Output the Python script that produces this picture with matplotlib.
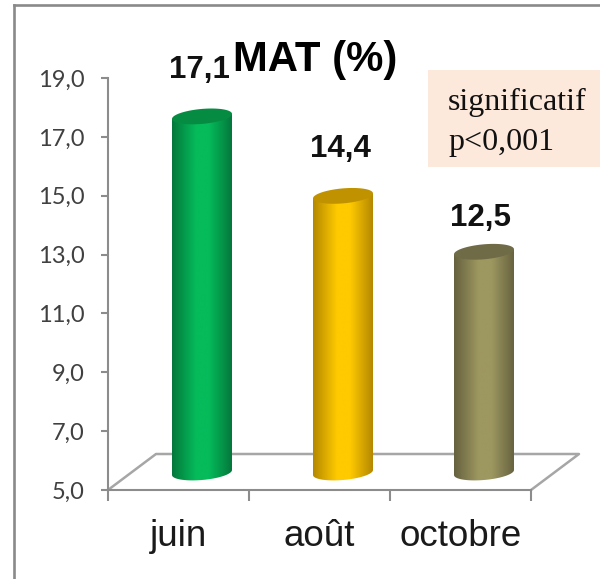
import numpy as np
import matplotlib
matplotlib.use('Agg')
import matplotlib.pyplot as plt
from matplotlib.colors import LinearSegmentedColormap
from matplotlib.lines import Line2D
from matplotlib.patches import PathPatch, Rectangle
from matplotlib.path import Path

plt.rcParams['font.family'] = ['Liberation Sans', 'DejaVu Sans']

months = ['juin', 'août', 'octobre']
mat = [17.1, 14.4, 12.5]
value_labels = ['17,1', '14,4', '12,5']
y_ticks = [5, 7, 9, 11, 13, 15, 17, 19]
y_tick_labels = ['5,0', '7,0', '9,0', '11,0', '13,0', '15,0', '17,0', '19,0']
edge_colors = ['#04783c', '#b58800', '#66613f']
mid_colors = ['#05bb5a', '#ffca00', '#9d9760']
top_colors = ['#068c42', '#c09200', '#6f6b47']
label_offsets = [46, 47, 34]  # px above the top of the bar

W, H = 600, 579
L, R, T, B = 108, 531, 78, 490
px_x = 3 / (R - L)  # one pixel in x data units
px_y = 14 / (B - T)  # one pixel in y data units

fig = plt.figure(figsize=(W / 100, H / 100), dpi=100)
fig.patch.set_facecolor('white')

# outer frame of the slide
fig.add_artist(Line2D([13.5 / W, 13.5 / W], [0, 1 - 5 / H], color='#8a8a8a', lw=1.9))
fig.add_artist(Line2D([13.5 / W, 1], [1 - 5 / H, 1 - 5 / H], color='#8a8a8a', lw=1.9))

ax = fig.add_axes([L / W, 1 - B / H, (R - L) / W, (B - T) / H])
ax.set_xlim(0, 3)
ax.set_ylim(5, 19)
ax.set_autoscale_on(False)
ax.patch.set_alpha(0)

for s in ['top', 'right']:
    ax.spines[s].set_visible(False)
for s in ['left', 'bottom']:
    ax.spines[s].set_color('#8c8c8c')
    ax.spines[s].set_linewidth(1.5)

ax.set_yticks(y_ticks)
ax.set_yticklabels(y_tick_labels, family='Lato', fontsize=17, color='#404040')
ax.tick_params(axis='y', length=5, width=1.5, color='#8c8c8c', pad=12)

ax.set_xticks([0, 1, 2, 3])
ax.set_xticklabels([])
ax.tick_params(axis='x', which='major', length=8, width=1.5, color='#8c8c8c')
centers = np.arange(len(months)) + 0.5
ax.set_xticks(centers, minor=True)
ax.set_xticklabels(months, minor=True, fontsize=26.5, color='#1a1a1a')
ax.tick_params(axis='x', which='minor', length=0, pad=40)
for lab in ax.get_xticklabels(minor=True):
    lab.set_verticalalignment('baseline')

# floor of the 3d chart
dx, dy = 48 * px_x, 36 * px_y
floor_color = '#a6a6a6'
ax.plot([0, dx, 3 + dx, 3], [5, 5 + dy, 5 + dy, 5], color=floor_color, lw=1.8,
        clip_on=False, zorder=1)

# cylinders: horizontal gradient clipped to the outline
shift = 23.5 * px_x
half_w = 30 * px_x
ell_h = 7.5 * px_y
tilt = 2.5 * px_y
base_y = 5 + 17.5 * px_y
top_shift = 17.5 * px_y
for i, v in enumerate(mat):
    xc = centers[i] + shift
    yt = v + top_shift
    t_low = np.linspace(np.pi, 2 * np.pi, 40)
    t_rim = np.linspace(0, 2 * np.pi, 80)
    low_x = xc + half_w * np.cos(t_low)
    low_y = base_y + tilt * np.cos(t_low) + ell_h * np.sin(t_low)
    body = list(zip(low_x, low_y)) + [(xc + half_w, yt + tilt), (xc - half_w, yt - tilt)]
    body_path = Path(body + [body[0]], closed=True)
    cmap = LinearSegmentedColormap.from_list(
        'c', [(0, edge_colors[i]), (0.4, mid_colors[i]), (0.62, mid_colors[i]), (1, edge_colors[i])])
    grad = np.linspace(0, 1, 128).reshape(1, -1)
    im = ax.imshow(grad, cmap=cmap, aspect='auto', zorder=3, interpolation='bilinear',
                   extent=[xc - half_w, xc + half_w, base_y - 2 * ell_h, yt + 2 * ell_h])
    clip = PathPatch(body_path, transform=ax.transData, fc='none', ec='none')
    ax.add_patch(clip)
    im.set_clip_path(clip)
    rim_x = xc + half_w * np.cos(t_rim)
    rim_y = yt + tilt * np.cos(t_rim) + ell_h * np.sin(t_rim)
    ax.fill(rim_x, rim_y, color=top_colors[i], lw=0, zorder=4)
    ax.annotate(value_labels[i], (xc, yt), xytext=(-3 * 0.72, label_offsets[i] * 0.72),
                textcoords='offset points', ha='center', va='center',
                fontsize=22.5, fontweight='bold', color='#111111', zorder=5,
                annotation_clip=False)

fig.text(315.5 / W, 1 - 71 / H, 'MAT (%)', fontsize=30.2, fontweight='bold',
         ha='center', va='baseline', color='black')

# box with the significance note
fig.add_artist(Rectangle((428 / W, 1 - 167 / H), 172 / W, 97 / H, transform=fig.transFigure,
                         fc='#fde9dc', ec='none', zorder=0))
fig.text(448 / W, 1 - 110 / H, 'significatif', family='Liberation Serif', fontsize=23,
         va='baseline', color='#111111')
fig.text(448 / W, 1 - 150 / H, 'p<0,001', family='Liberation Serif', fontsize=23,
         va='baseline', color='#111111')

fig.savefig('out.png', dpi=100)
